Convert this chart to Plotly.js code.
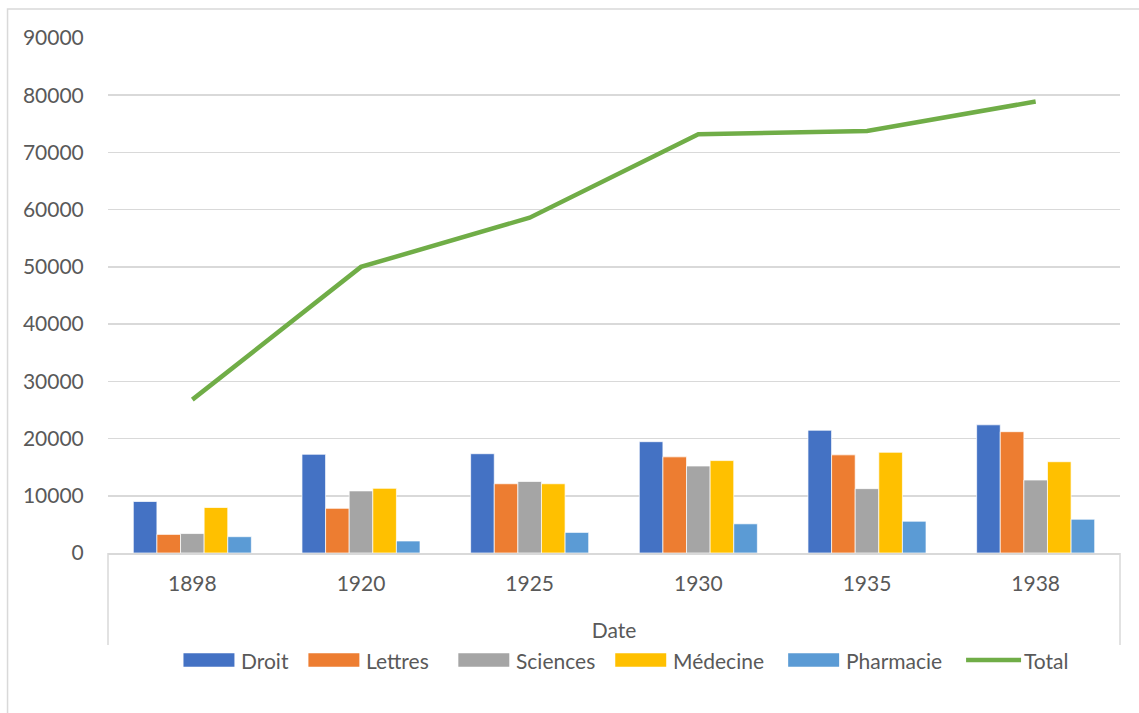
<!DOCTYPE html>
<html>
<head>
<meta charset="utf-8">
<script src="https://cdn.plot.ly/plotly-3.0.1.min.js"></script>
<style>
html,body{margin:0;padding:0;background:#fff;}
#chart{width:1139px;height:713px;}
</style>
</head>
<body>
<div id="chart"></div>
<script>
const categories = ['1898', '1920', '1925', '1930', '1935', '1938'];
const droit     = [9000, 17250, 17350, 19450, 21450, 22400];
const lettres   = [3250, 7800, 12100, 16800, 17150, 21200];
const sciences  = [3400, 10850, 12500, 15200, 11250, 12750];
const medecine  = [7950, 11300, 12100, 16150, 17600, 15950];
const pharmacie = [2850, 2100, 3600, 5100, 5550, 5900];
const total     = [26800, 50000, 58600, 73200, 73750, 78900];

const seriesNames = ['Droit', 'Lettres', 'Sciences', 'Médecine', 'Pharmacie'];
const seriesData = [droit, lettres, sciences, medecine, pharmacie];
const barColors = ['#4472C4', '#ED7D31', '#A5A5A5', '#FFC000', '#5B9BD5'];
const lineName = 'Total';
const lineColor = '#70AD47';

const traces = seriesNames.map((name, i) => ({
  type: 'bar',
  name: name,
  x: categories,
  y: seriesData[i],
  marker: {color: barColors[i], line: {color: 'rgba(255,255,255,0.7)', width: 1}},
  hoverinfo: 'x+y+name'
}));
traces.push({
  type: 'scatter',
  mode: 'lines',
  name: lineName,
  x: categories,
  y: total,
  line: {color: lineColor, width: 4.5}
});

const fontFam = 'Lato, "Open Sans", sans-serif';
const textCol = '#595959';
const gridCol = '#d9d9d9';
const mL = 107.5, mT = 38, plotH = 515, plotW = 1012.5;
const px = v => (v - mL) / plotW;          // pixel x -> paper x
const py = v => (mT + plotH - v) / plotH;  // pixel y -> paper y

// custom legend (wide swatches like the original)
const legendY = 660;
const swatchX = [183, 308, 458, 615, 788];   // swatch left edges (px)
const swatchW = 51;
const lineSwatch = [966, 1021];
const shapes = [];
const annotations = [];
seriesNames.forEach((name, i) => {
  shapes.push({type: 'rect', xref: 'paper', yref: 'paper',
    x0: px(swatchX[i]), x1: px(swatchX[i] + swatchW),
    y0: py(legendY + 6.8), y1: py(legendY - 6.8),
    line: {width: 0}, fillcolor: barColors[i]});
  annotations.push({xref: 'paper', yref: 'paper', x: px(swatchX[i] + swatchW + 5), y: py(legendY),
    xanchor: 'left', yanchor: 'middle', showarrow: false, text: name,
    font: {family: fontFam, size: 21, color: textCol}});
});
shapes.push({type: 'line', xref: 'paper', yref: 'paper',
  x0: px(lineSwatch[0]), x1: px(lineSwatch[1]), y0: py(legendY), y1: py(legendY),
  line: {color: lineColor, width: 4.5}});
annotations.push({xref: 'paper', yref: 'paper', x: px(lineSwatch[1] + 1), y: py(legendY),
  xanchor: 'left', yanchor: 'middle', showarrow: false, text: lineName,
  font: {family: fontFam, size: 21, color: textCol}});

// category-axis side lines and chart border
shapes.push(
  {type: 'line', xref: 'paper', yref: 'paper', x0: 0, x1: 0, y0: 0, y1: py(645),
   line: {color: gridCol, width: 1.5}},
  {type: 'line', xref: 'paper', yref: 'paper', x0: 1, x1: 1, y0: 0, y1: py(645),
   line: {color: gridCol, width: 1.5}},
  {type: 'rect', xref: 'paper', yref: 'paper',
   x0: px(7), x1: px(1150), y0: py(730), y1: py(9),
   line: {color: gridCol, width: 1.5}, fillcolor: 'rgba(0,0,0,0)', layer: 'below'}
);

const layout = {
  width: 1139,
  height: 713,
  margin: {l: mL, r: 1139 - mL - plotW, t: mT, b: 713 - mT - plotH},
  paper_bgcolor: '#ffffff',
  plot_bgcolor: '#ffffff',
  font: {family: fontFam, size: 21, color: textCol},
  barmode: 'group',
  bargap: 0.30,
  bargroupgap: 0,
  showlegend: false,
  xaxis: {
    type: 'category',
    showgrid: false,
    showline: true,
    linecolor: gridCol,
    linewidth: 1.5,
    ticks: 'outside',
    ticklen: 11,
    tickcolor: 'rgba(0,0,0,0)',
    tickfont: {family: fontFam, size: 21, color: textCol},
    title: {text: 'Date', font: {family: fontFam, size: 21, color: textCol}, standoff: 29},
    automargin: false,
    fixedrange: true
  },
  yaxis: {
    range: [0, 90000],
    dtick: 10000,
    showgrid: true,
    gridcolor: gridCol,
    gridwidth: 1.5,
    zeroline: false,
    showline: false,
    ticks: 'outside',
    ticklen: 19,
    tickcolor: 'rgba(0,0,0,0)',
    tickformat: 'd',
    tickfont: {family: fontFam, size: 21, color: textCol},
    automargin: false,
    fixedrange: true
  },
  shapes: shapes,
  annotations: annotations
};

Plotly.newPlot('chart', traces, layout, {displayModeBar: false, staticPlot: true});
</script>
</body>
</html>
